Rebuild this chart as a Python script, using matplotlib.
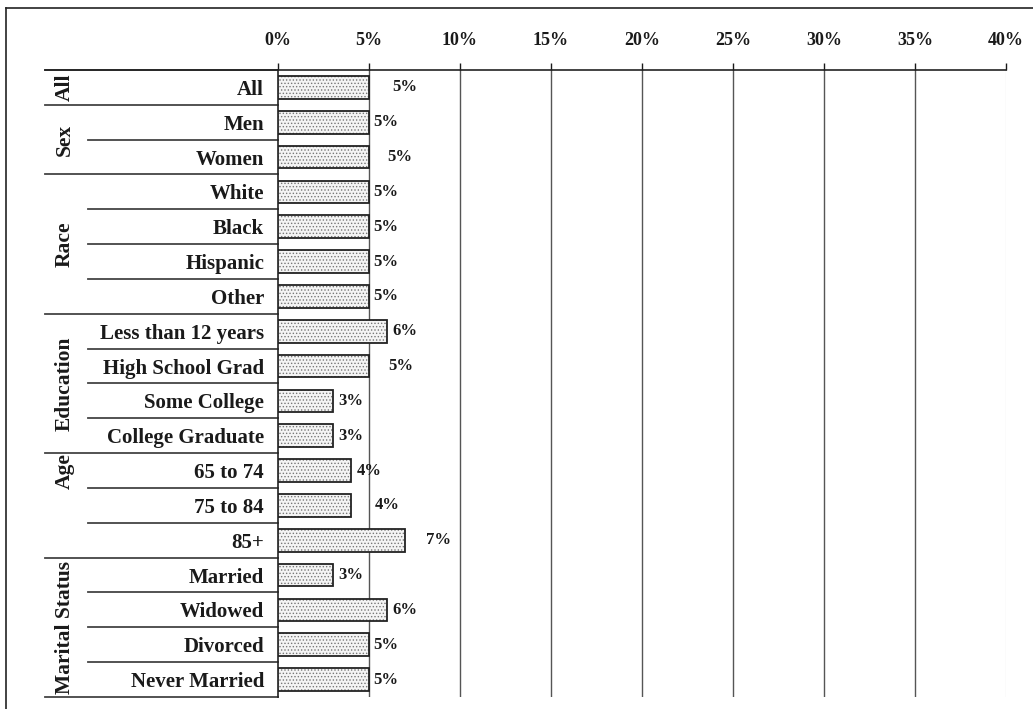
import matplotlib
matplotlib.use("Agg")
import matplotlib.pyplot as plt
import matplotlib.transforms as mtransforms
from matplotlib.lines import Line2D

# data
categories = ["All", "Men", "Women", "White", "Black", "Hispanic", "Other",
              "Less than 12 years", "High School Grad", "Some College",
              "College Graduate", "65 to 74", "75 to 84", "85+",
              "Married", "Widowed", "Divorced", "Never Married"]
values = [5, 5, 5, 5, 5, 5, 5, 6, 5, 3, 3, 4, 4, 7, 3, 6, 5, 5]
groups = ["All", "Sex", "Race", "Education", "Age", "Marital Status"]
group_sizes = [1, 2, 4, 4, 3, 4]
xticks = [0, 5, 10, 15, 20, 25, 30, 35, 40]

# style
fs = 15
tick_fs = 13
val_fs = 12
# value label gap from bar end, in points (labels are placed unevenly in the original)
label_pad = [17, 3, 13, 3, 3, 3, 3, 4, 14, 4, 4, 4, 17, 15, 4, 4, 3, 3]
# group label row positions (Age sits on its first row)
group_label_row = [0, 1.5, 4.5, 8.5, 11, 15.5]
serif = "Liberation Serif"
line_col = "#444444"

plt.rcParams["hatch.linewidth"] = 0.6

fig = plt.figure(figsize=(10.33, 7.09), dpi=100)
W, H = 1033, 709
ax = fig.add_axes([278 / W, 1 - 697 / H, 728 / W, 627 / H])

n = len(categories)
ypos = list(range(n))

# dotted fill then black outline
ax.barh(ypos, values, height=0.65, color="#f4f4f4", edgecolor="#777777",
        hatch=".....", linewidth=0, zorder=3)
ax.barh(ypos, values, height=0.65, fill=False, edgecolor="#222222",
        linewidth=1.3, zorder=4)

for i, v in enumerate(values):
    ax.annotate(f"{v}%", xy=(v, i), xytext=(label_pad[i], 0),
                textcoords="offset points", ha="left", va="center",
                fontsize=val_fs, fontweight="bold", family=serif, color="#1a1a1a")

ax.set_xlim(0, 40)
ax.set_ylim(n - 0.5, -0.5)

ax.xaxis.tick_top()
ax.set_xticks(xticks)
ax.set_xticklabels([f"{t}%" for t in xticks], fontsize=tick_fs,
                   fontweight="bold", family=serif)
ax.tick_params(axis="x", direction="out", length=5, width=1, pad=10,
               colors="#1a1a1a")

ax.set_yticks(ypos)
ax.set_yticklabels(categories, fontsize=fs, fontweight="bold", family=serif)
ax.tick_params(axis="y", length=0, pad=10, colors="#1a1a1a")

for t in xticks[1:-1]:
    ax.axvline(t, color="#555555", linewidth=1, zorder=1)
ax.axvline(40, color="#eeeeee", linewidth=1, zorder=1)

for s in ["right", "bottom"]:
    ax.spines[s].set_visible(False)
ax.spines["top"].set_color("#222222")
ax.spines["left"].set_color("#222222")
ax.spines["top"].set_linewidth(1.2)
ax.spines["left"].set_linewidth(1.2)

# row and group separator lines to the left of the plot
trans = mtransforms.blended_transform_factory(ax.transAxes, ax.transData)
x_inner = (88 - 278) / 728
x_group = (45 - 278) / 728
group_starts = [sum(group_sizes[:k]) for k in range(len(groups))]
for b in range(n + 1):
    yb = b - 0.5
    x0 = x_group if b in group_starts or b == n else x_inner
    ax.plot([x0, 0], [yb, yb], transform=trans, clip_on=False,
            color=line_col, linewidth=1.3, zorder=2)
ax.plot([x_group, 0], [-0.5, -0.5], transform=trans, clip_on=False,
        color="#222222", linewidth=1.2)

x_glab = (65 - 278) / 728
for g, yr in zip(groups, group_label_row):
    ax.text(x_glab, yr, g, transform=trans, rotation=90, ha="center",
            va="center", fontsize=fs + 0.5, fontweight="bold", family=serif,
            color="#1a1a1a")

# outer frame (left and top only)
fig.add_artist(Line2D([6 / W, 6 / W], [0, 1 - 8 / H], color="#222222", linewidth=1.2))
fig.add_artist(Line2D([6 / W, 1], [1 - 8 / H, 1 - 8 / H], color="#222222", linewidth=1.2))

fig.savefig("out.png", dpi=100, facecolor="white")
